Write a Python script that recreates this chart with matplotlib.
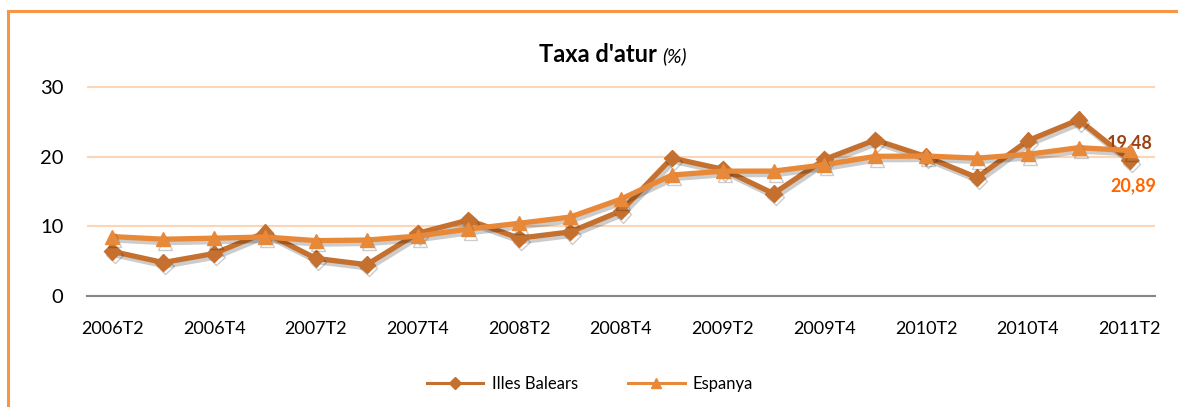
import matplotlib
matplotlib.use("Agg")
import matplotlib.pyplot as plt
import matplotlib.patheffects as pe
from matplotlib.lines import Line2D

plt.rcParams['font.family'] = ['Lato', 'DejaVu Sans']

# quarterly unemployment rate, 2006T2 .. 2011T2
quarters = ['2006T2', '2006T3', '2006T4', '2007T1', '2007T2', '2007T3', '2007T4',
            '2008T1', '2008T2', '2008T3', '2008T4', '2009T1', '2009T2', '2009T3',
            '2009T4', '2010T1', '2010T2', '2010T3', '2010T4', '2011T1', '2011T2']
balears = [6.4, 4.8, 6.1, 9.1, 5.4, 4.5, 9.0, 10.9, 8.3, 9.2, 12.2, 19.8,
           18.2, 14.7, 19.6, 22.4, 20.0, 17.0, 22.3, 25.3, 19.48]
espanya = [8.53, 8.15, 8.30, 8.47, 7.95, 8.03, 8.60, 9.60, 10.44, 11.33, 13.91,
           17.36, 17.92, 17.93, 18.83, 20.05, 20.09, 19.79, 20.33, 21.29, 20.89]
yticks = [0, 10, 20, 30]

c_bal = '#C5702E'
c_esp = '#E8893A'

W, H = 1178, 407
fig = plt.figure(figsize=(W / 100, H / 100), dpi=100)
# y range a bit over 30 so the top gridline isn't clipped
ax = fig.add_axes([87 / W, 1 - 296 / H, (1155 - 87) / W, (296 - 85.6) / H])

x = list(range(len(quarters)))
shadow = [pe.SimpleLineShadow(offset=(1.5, -2.5), alpha=0.2, shadow_color='k'), pe.Normal()]

ax.plot(x, balears, color=c_bal, lw=3.8, marker='D', ms=8.5, mec=c_bal,
        label='Illes Balears', path_effects=shadow, zorder=3)
ax.plot(x, espanya, color=c_esp, lw=3.8, marker='^', ms=10, mec=c_esp,
        label='Espanya', path_effects=shadow, zorder=4)

ax.set_xlim(-0.5, len(quarters) - 0.5)
ax.set_ylim(0, 30.2)
ax.set_yticks(yticks)
ax.set_yticklabels([str(v) for v in yticks], fontsize=14.5)
ax.set_xticks(x[::2])
ax.set_xticklabels(quarters[::2], fontsize=13)
ax.tick_params(axis='y', length=0, pad=17)
ax.tick_params(axis='x', length=0, pad=18)

ax.grid(axis='y', color='#FBD5B5', lw=1.5)
ax.set_axisbelow(True)
for s in ['top', 'right', 'left']:
    ax.spines[s].set_visible(False)
ax.spines['bottom'].set_color('#868686')
ax.spines['bottom'].set_linewidth(1.5)

# end labels
ax.annotate('19,48', (x[-1], balears[-1]), xytext=(0, 18), textcoords='offset pixels',
            ha='center', va='center', fontsize=13, fontweight='bold', color='#9C4212')
ax.annotate('20,89', (x[-1], espanya[-1]), xytext=(4, -35), textcoords='offset pixels',
            ha='center', va='center', fontsize=13, fontweight='bold', color='#FF6600')

# title
fig.text(657 / W, 1 - 62 / H, "Taxa d'atur", ha='right', va='baseline',
         fontsize=17, fontweight='bold')
fig.text(662 / W, 1 - 62 / H, "(%)", ha='left', va='baseline',
         fontsize=14, fontstyle='italic')

handles = [Line2D([], [], color=c_bal, lw=2.2, marker='D', ms=6),
           Line2D([], [], color=c_esp, lw=2.2, marker='^', ms=7)]
fig.legend(handles, ['Illes Balears', 'Espanya'], loc='center', ncol=2,
           bbox_to_anchor=(590 / W, 1 - 384 / H), frameon=False, fontsize=12,
           handlelength=3.4, columnspacing=3.0, handletextpad=0.5)

# frame (left and top edges visible)
border = '#F79646'
fig.add_artist(Line2D([8 / W, 8 / W], [0, 1 - 11 / H], color=border, lw=2.2))
fig.add_artist(Line2D([8 / W, 1], [1 - 11 / H, 1 - 11 / H], color=border, lw=2.2))

fig.savefig('out.png', dpi=100)
